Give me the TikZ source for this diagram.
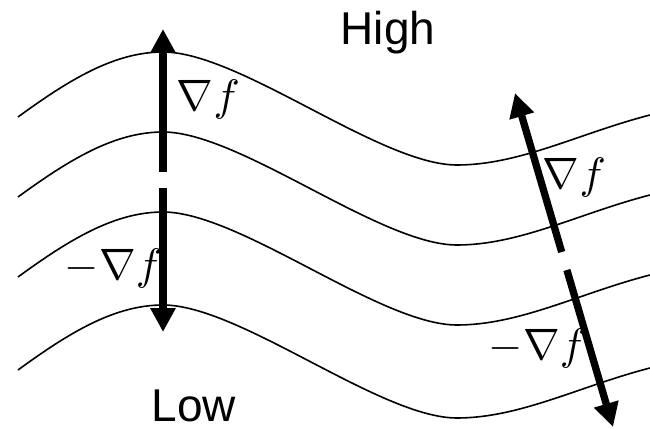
\documentclass[tikz,border=0pt]{standalone}
\usepackage{fontspec}
\newfontfamily\labelfont{Liberation Sans}
\usetikzlibrary{arrows.meta}
\begin{document}
\begin{tikzpicture}[x=1pt,y=-1pt,
  level/.style={line width=1.6pt},
  grad/.style={line width=7.3pt, -{Triangle[length=24pt,width=24pt]}},
  gradlabel/.style={anchor=base west, inner sep=0pt, scale=4.4},
  wordlabel/.style={anchor=base, inner sep=0pt, text depth=0pt, font=\labelfont\fontsize{46}{50}\selectfont}]
\useasboundingbox (0,0) rectangle (650,428);
% level curves
\foreach \d in {0,80,160,253}{
  \draw[level] (18,117+\d) .. controls (70,79+\d) and (115,52+\d) .. (163,52+\d)
     .. controls (240,52+\d) and (380,165+\d) .. (457,165+\d)
     .. controls (520,165+\d) and (580,133+\d) .. (650,115+\d);
}
% left arrows
\coordinate (Lu0) at (163,172);
\coordinate (Lu1) at (163,29);
\coordinate (Ld0) at (163,188);
\coordinate (Ld1) at (163,332);
\draw[grad] (Lu0) -- (Lu1);
\draw[grad] (Ld0) -- (Ld1);
% right arrows
\coordinate (Ru0) at (561.7,252);
\coordinate (Ru1) at (515,93);
\coordinate (Rd0) at (566.9,270);
\coordinate (Rd1) at (613,427);
\draw[grad] (Ru0) -- (Ru1);
\draw[grad] (Rd0) -- (Rd1);
% labels
\node[gradlabel] (g1) at (176,110) {$\nabla f$};
\node[gradlabel] (g2) at (64,279) {$-\nabla f$};
\node[gradlabel] (g3) at (542,188) {$\nabla f$};
\node[gradlabel] (g4) at (488,359) {$-\nabla f$};
\node[wordlabel] (high) at (388,45) {High};
\node[wordlabel] (low) at (194,421) {Low};
\end{tikzpicture}
\end{document}
